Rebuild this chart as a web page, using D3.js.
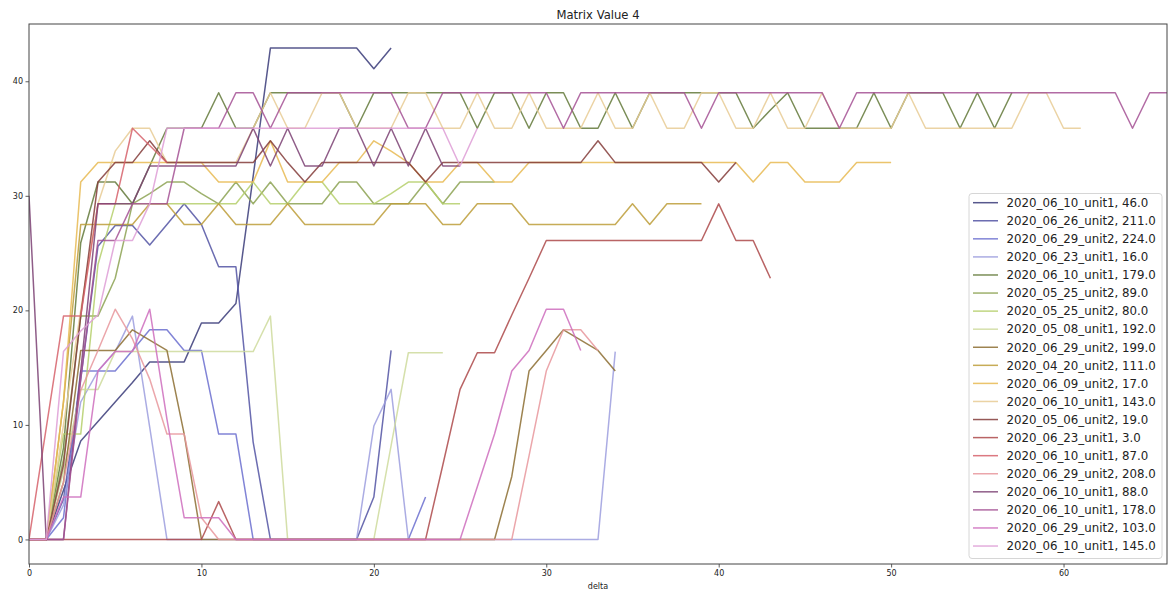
<!DOCTYPE html>
<html>
<head>
<meta charset="utf-8">
<script src="https://cdn.jsdelivr.net/npm/d3@7"></script>
<style>
  html, body { margin: 0; padding: 0; background: #fff; }
  svg { display: block; font-family: "DejaVu Sans", sans-serif; }
</style>
</head>
<body>
<svg id="chart" width="1171" height="594"></svg>
<script>
// Series values, one point per delta step starting at delta = 0
const s00 = [0, 0, 4.3, 8.6, 10.3, 12.0, 13.7, 15.5, 15.5, 15.5, 18.9, 18.9, 20.6, 31.7, 42.9, 42.9, 42.9, 42.9, 42.9, 42.9, 41.1, 42.9];
const s01 = [0, 0, 3.5, 14, 25.6, 27.4, 27.4, 25.7, 27.5, 29.3, 27.5, 23.8, 23.8, 8.5, 0, 0, 0, 0, 0, 0, 3.7, 16.5];
const s02 = [0, 0, 1.9, 14.7, 14.7, 14.7, 16.5, 18.3, 18.3, 16.5, 16.5, 9.2, 9.2, 0, 0, 0, 0, 0, 0, 0, 0, 0, 0, 3.7];
const s03 = [0, 0, 3, 12, 14.7, 16.4, 19.5, 9.8, 0, 0, 0, 0, 0, 0, 0, 0, 0, 0, 0, 0, 9.9, 13.1, 0, 0, 0, 0, 0, 0, 0, 0, 0, 0, 0, 0, 16.4];
const s04 = [0, 0, 8, 25.9, 31.2, 31.2, 29.3, 32.6, 35.9, 35.9, 35.9, 39, 35.9, 35.9, 39, 39, 39, 39, 39, 35.9, 39, 39, 39, 39, 39, 39, 35.9, 39, 39, 35.9, 39, 39, 35.9, 35.9, 39, 35.9, 39, 39, 39, 39, 39, 39, 35.9, 37.5, 39, 35.9, 35.9, 35.9, 35.9, 39, 35.9, 39, 39, 39, 35.9, 39, 35.9, 39];
const s05 = [0, 0, 7, 19.5, 19.5, 22.8, 29.3, 30.2, 31.2, 31.2, 30.2, 29.3, 31.2, 29.3, 31.2, 29.3, 29.3, 29.3, 31.2, 31.2, 29.3, 29.3, 29.3, 31.2, 29.3, 31.2, 31.2, 31.2];
const s06 = [0, 0, 9.2, 9.2, 24, 29.3, 29.3, 29.3, 29.3, 29.3, 29.3, 29.3, 29.3, 31.2, 29.3, 29.3, 31.2, 31.2, 29.3, 29.3, 29.3, 30.2, 31.2, 31.2, 29.3, 29.3];
const s07 = [0, 0, 6, 13.1, 13.1, 16.4, 16.4, 16.4, 16.4, 16.4, 16.4, 16.4, 16.4, 16.4, 19.5, 0, 0, 0, 0, 0, 0, 8.2, 16.3, 16.3, 16.3];
const s08 = [0, 0, 5, 16.5, 16.5, 16.5, 18.3, 17.4, 16.5, 9.2, 0, 0, 0, 0, 0, 0, 0, 0, 0, 0, 0, 0, 0, 0, 0, 0, 0, 0, 5.5, 14.7, 16.5, 18.3, 17.4, 16.5, 14.7];
const s09 = [0, 0, 12, 27.5, 27.5, 27.5, 27.5, 29.3, 29.3, 27.5, 27.5, 29.3, 27.5, 27.5, 27.5, 29.3, 27.5, 27.5, 27.5, 27.5, 27.5, 29.3, 29.3, 29.3, 27.5, 27.5, 29.3, 29.3, 29.3, 27.5, 27.5, 27.5, 27.5, 27.5, 27.5, 29.3, 27.5, 29.3, 29.3, 29.3];
const s10 = [0, 0, 12, 31.2, 32.9, 32.9, 32.9, 32.9, 32.9, 32.9, 32.9, 31.2, 31.2, 31.2, 34.8, 31.2, 31.2, 31.2, 32.9, 32.9, 34.8, 33.9, 32.9, 31.2, 31.2, 32.9, 32.9, 31.2, 31.2, 32.9, 32.9, 32.9, 32.9, 32.9, 32.9, 32.9, 32.9, 32.9, 32.9, 32.9, 32.9, 32.9, 31.2, 32.9, 32.9, 31.2, 31.2, 31.2, 32.9, 32.9, 32.9];
const s11 = [0, 0, 10, 20, 29.3, 33.9, 35.9, 35.9, 32.9, 32.9, 32.9, 32.9, 32.9, 35.9, 39, 35.9, 35.9, 39, 39, 35.9, 35.9, 35.9, 39, 39, 35.9, 35.9, 39, 35.9, 35.9, 39, 35.9, 35.9, 35.9, 39, 35.9, 35.9, 39, 35.9, 35.9, 39, 39, 35.9, 35.9, 39, 35.9, 35.9, 39, 35.9, 35.9, 35.9, 35.9, 39, 35.9, 35.9, 35.9, 35.9, 35.9, 35.9, 39, 39, 35.9, 35.9];
const s12 = [0, 0, 6.5, 19.5, 31.2, 32.9, 32.9, 34.8, 32.9, 32.9, 32.9, 32.9, 32.9, 32.9, 34.8, 32.9, 31.2, 32.9, 32.9, 32.9, 32.9, 32.9, 32.9, 31.2, 32.9, 32.9, 32.9, 32.9, 32.9, 32.9, 32.9, 32.9, 32.9, 34.8, 32.9, 32.9, 32.9, 32.9, 32.9, 32.9, 31.2, 32.9];
const s13 = [0, 0, 0, 0, 0, 0, 0, 0, 0, 0, 0, 3.3, 0, 0, 0, 0, 0, 0, 0, 0, 0, 0, 0, 0, 6.5, 13.1, 16.3, 16.3, 19.6, 22.8, 26.1, 26.1, 26.1, 26.1, 26.1, 26.1, 26.1, 26.1, 26.1, 26.1, 29.3, 26.1, 26.1, 22.8];
const s14 = [0, 9.75, 19.5, 19.5, 29.3, 29.3, 35.9, 34.4, 32.9];
const s15 = [0, 0, 5, 13, 16.5, 20.1, 17.5, 14, 9.2, 9.2, 1.9, 0, 0, 0, 0, 0, 0, 0, 0, 0, 0, 0, 0, 0, 0, 0, 0, 0, 0, 7.3, 14.7, 18.3, 18.3, 16.5];
const s16 = [30, 0, 0, 14.7, 29.3, 29.3, 29.3, 32.6, 32.6, 32.6, 32.6, 32.6, 32.6, 35.9, 32.6, 35.9, 32.6, 32.6, 35.9, 35.9, 32.6, 35.9, 32.6, 35.9, 32.6, 32.6];
const s17 = [0, 0, 0, 14, 26.1, 26.1, 29.3, 29.3, 29.3, 35.9, 35.9, 35.9, 39, 39, 35.9, 39, 39, 39, 39, 39, 39, 39, 35.9, 35.9, 39, 39, 39, 39, 39, 39, 39, 35.9, 39, 39, 39, 39, 39, 39, 39, 35.9, 39, 39, 39, 39, 39, 39, 39, 35.9, 39, 39, 39, 39, 39, 39, 39, 39, 39, 39, 39, 39, 39, 39, 39, 39, 35.9, 39, 39];
const s18 = [0, 0, 3.7, 3.7, 14.7, 16.4, 16.4, 20.1, 10.5, 1.9, 1.9, 1.9, 0, 0, 0, 0, 0, 0, 0, 0, 0, 0, 0, 0, 0, 0, 4.6, 9.2, 14.7, 16.5, 20.1, 20.1, 16.5];
const s19 = [0, 0, 16.4, 18.2, 19.6, 26.1, 26.1, 29.3, 35.9, 35.9, 35.9, 35.9, 35.9, 35.9, 35.9, 35.9, 35.9, 35.9, 35.9, 35.9, 35.9, 35.9, 35.9, 35.9, 35.9, 32.6, 35.9];

const seriesValues = [s00, s01, s02, s03, s04, s05, s06, s07, s08, s09, s10, s11, s12, s13, s14, s15, s16, s17, s18, s19];

const seriesLabels = [
  "2020_06_10_unit1, 46.0", "2020_06_26_unit2, 211.0", "2020_06_29_unit2, 224.0", "2020_06_23_unit1, 16.0",
  "2020_06_10_unit1, 179.0", "2020_05_25_unit2, 89.0", "2020_05_25_unit2, 80.0", "2020_05_08_unit1, 192.0",
  "2020_06_29_unit2, 199.0", "2020_04_20_unit2, 111.0", "2020_06_09_unit2, 17.0", "2020_06_10_unit1, 143.0",
  "2020_05_06_unit2, 19.0", "2020_06_23_unit1, 3.0", "2020_06_10_unit1, 87.0", "2020_06_29_unit2, 208.0",
  "2020_06_10_unit1, 88.0", "2020_06_10_unit1, 178.0", "2020_06_29_unit2, 103.0", "2020_06_10_unit1, 145.0"
];

const xTicks = [0, 10, 20, 30, 40, 50, 60];
const yTicks = [0, 10, 20, 30, 40];

// tab20b palette
const palette = ["#393b79", "#5254a3", "#6b6ecf", "#9c9ede", "#637939", "#8ca252", "#b5cf6b", "#cedb9c",
                 "#8c6d31", "#bd9e39", "#e7ba52", "#e7cb94", "#843c39", "#ad494a", "#d6616b", "#e7969c",
                 "#7b4173", "#a55194", "#ce6dbd", "#de9ed6"];

const svg = d3.select("#chart");
const plot = { left: 29, right: 1167, top: 24, bottom: 564 };

const x = d3.scaleLinear().domain([0, 66]).range([plot.left, plot.right]);
const y = d3.scaleLinear().domain([-2.143, 45.0]).range([plot.bottom, plot.top]);

svg.append("defs").append("clipPath").attr("id", "plot-clip")
  .append("rect")
  .attr("x", plot.left).attr("y", plot.top)
  .attr("width", plot.right - plot.left).attr("height", plot.bottom - plot.top);

// lines
const line = d3.line().x((d, i) => x(i)).y(d => y(d));
const lines = svg.append("g").attr("clip-path", "url(#plot-clip)");
seriesValues.forEach((vals, k) => {
  lines.append("path")
    .attr("d", line(vals))
    .attr("fill", "none")
    .attr("stroke", palette[k])
    .attr("stroke-opacity", 0.85)
    .attr("stroke-width", 1.5)
    .attr("stroke-linejoin", "round");
});

// axes
const xAxis = svg.append("g").attr("transform", `translate(0,${plot.bottom})`)
  .call(d3.axisBottom(x).tickValues(xTicks).tickFormat(d3.format("d")).tickSize(3.5).tickPadding(2.5));
const yAxis = svg.append("g").attr("transform", `translate(${plot.left},0)`)
  .call(d3.axisLeft(y).tickValues(yTicks).tickFormat(d3.format("d")).tickSize(3.5).tickPadding(2.5));
[xAxis, yAxis].forEach(g => {
  g.select(".domain").remove();
  g.selectAll(".tick line").attr("stroke", "#333").attr("stroke-width", 0.8);
  g.selectAll(".tick text").attr("fill", "#222").style("font-size", "8px").style("font-family", "DejaVu Sans");
});

// frame
svg.append("rect")
  .attr("x", plot.left).attr("y", plot.top)
  .attr("width", plot.right - plot.left).attr("height", plot.bottom - plot.top)
  .attr("fill", "none").attr("stroke", "#444").attr("stroke-width", 1);

// title and axis label
svg.append("text")
  .attr("x", (plot.left + plot.right) / 2).attr("y", 19)
  .attr("text-anchor", "middle").attr("fill", "#222")
  .style("font-size", "11.6px")
  .text("Matrix Value 4");
svg.append("text")
  .attr("x", (plot.left + plot.right) / 2).attr("y", 589)
  .attr("text-anchor", "middle").attr("fill", "#222")
  .style("font-size", "8px")
  .text("delta");

// legend
const legend = svg.append("g");
legend.append("rect")
  .attr("x", 969).attr("y", 193.5).attr("width", 193).attr("height", 365)
  .attr("rx", 3).attr("ry", 3)
  .attr("fill", "#fff").attr("fill-opacity", 0.85)
  .attr("stroke", "#d6d6d6").attr("stroke-width", 1);
seriesLabels.forEach((label, k) => {
  const cy = 202.7 + k * 18.07;
  legend.append("line")
    .attr("x1", 973).attr("x2", 998).attr("y1", cy).attr("y2", cy)
    .attr("stroke", palette[k]).attr("stroke-opacity", 0.85).attr("stroke-width", 1.5);
  legend.append("text")
    .attr("x", 1006.5).attr("y", cy).attr("dy", "0.36em")
    .attr("fill", "#222").style("font-size", "11.8px")
    .text(label);
});
</script>
</body>
</html>
